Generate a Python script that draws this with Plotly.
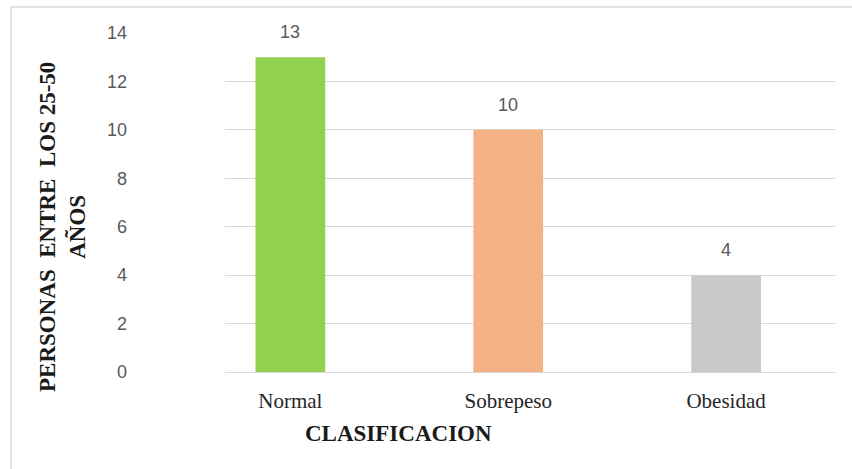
import plotly.graph_objects as go

# Body-mass classification of people aged 25-50
categories = ["Normal", "Sobrepeso", "Obesidad"]
counts = [13, 10, 4]
bar_colors = ["#92D050", "#F4B183", "#C9C9C9"]
y_ticks = [0, 2, 4, 6, 8, 10, 12, 14]

fig = go.Figure(
    go.Bar(
        x=categories,
        y=counts,
        marker=dict(color=bar_colors, line=dict(width=0)),
        width=0.32,
        hoverinfo="x+y",
    )
)

# Value labels above each bar
for cat, val in zip(categories, counts):
    fig.add_annotation(
        x=cat, y=val, text=str(val), showarrow=False,
        yanchor="middle", yshift=25,
        font=dict(family="Liberation Sans", size=18, color="#595959"),
    )

# Axis titles
fig.add_annotation(
    xref="paper", yref="paper", x=(398 - 225) / 610, y=(372 - 434) / 339,
    text="<b>CLASIFICACION</b>", showarrow=False,
    xanchor="center", yanchor="middle",
    font=dict(family="Liberation Serif", size=23, color="#1a1a1a"),
)
fig.add_annotation(
    xref="paper", yref="paper", x=(62 - 225) / 610, y=(372 - 227) / 339,
    text="<b>PERSONAS\u00a0 ENTRE\u00a0 LOS 25-50<br>AÑOS</b>", showarrow=False,
    textangle=-90, xanchor="center", yanchor="middle", align="center",
    font=dict(family="Liberation Serif", size=23, color="#1a1a1a"),
)

# Outer chart frame
fig.add_shape(
    type="rect", xref="paper", yref="paper",
    x0=(11 - 225) / 610, x1=(870 - 225) / 610,
    y0=(372 - 490) / 339, y1=(372 - 7) / 339,
    line=dict(color="#D9D9D9", width=1.5), fillcolor="rgba(0,0,0,0)", layer="below",
)

fig.update_layout(
    width=852, height=469,
    margin=dict(l=225, r=17, t=33, b=97),
    paper_bgcolor="white", plot_bgcolor="white",
    showlegend=False,
    xaxis=dict(
        range=[-0.3, 2.5], showgrid=False, zeroline=False,
        showline=True, linecolor="#D9D9D9", linewidth=1,
        ticks="", ticklabelstandoff=10,
        tickfont=dict(family="Liberation Serif", size=21, color="#262626"),
    ),
    yaxis=dict(
        range=[0, 14], tickvals=y_ticks, showgrid=True,
        gridcolor="#D9D9D9", gridwidth=1, zeroline=False,
        showline=False, ticks="", ticklabelstandoff=97,
        tickfont=dict(family="Liberation Sans", size=18, color="#595959"),
    ),
)

fig.write_html("out.html")
